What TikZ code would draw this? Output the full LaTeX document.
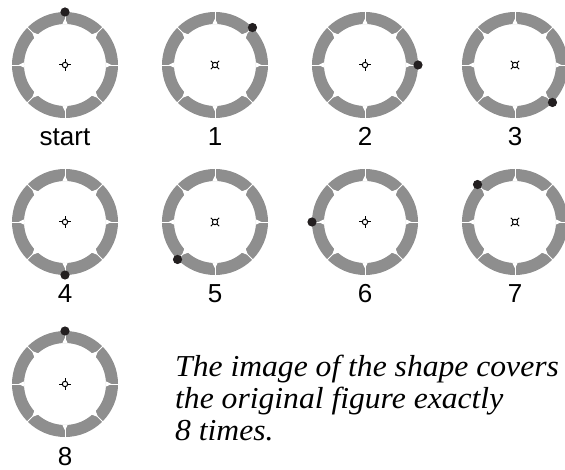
\documentclass[tikz,border=0pt]{standalone}
\usepackage{fontspec}
\setmainfont{Liberation Serif}
\newfontfamily\labelfont{Liberation Sans}
\newfontfamily\capfont{Liberation Serif Italic}[FakeStretch=1.04]
\definecolor{ringgray}{RGB}{142,142,142}
\definecolor{dotblack}{RGB}{35,31,32}
\tikzset{
  ring/.style={draw=ringgray, line width=12pt},
  notchline/.style={draw=white, line width=0.9pt},
  notchtri/.style={fill=white},
  marker/.style={draw=black, line width=1pt},
  dotmark/.style={fill=dotblack},
  steplabel/.style={font=\labelfont\fontsize{26}{26}\selectfont, anchor=base, inner sep=0},
  captiontext/.style={font=\capfont\fontsize{30.4}{31}\selectfont, anchor=base west, inner sep=0}
}
\begin{document}
\begin{tikzpicture}[x=1pt,y=-1pt]
\useasboundingbox (0,0) rectangle (565,470);
\foreach \k/\cx/\cy/\lab in {0/65/65/start,1/215/65/1,2/365/65/2,3/515/65/3,4/65/222/4,5/215/222/5,6/365/222/6,7/515/222/7,8/65/384/8}{
  \coordinate (r\k) at (\cx,\cy);
  \begin{scope}[shift={(r\k)}]
    \draw[ring] (0,0) circle[radius=47];
    \foreach \j in {0,...,7}{
      \fill[notchtri] (\j*45-4:40.6) -- (\j*45+4:40.6) -- (\j*45:46.5) -- cycle;
      \draw[notchline] (\j*45:40.5) -- (\j*45:54);
    }
    \fill[dotmark] ({-(90-45*\k)}:53) circle[radius=4.6];
    \draw[marker] (0,0) circle[radius=2.7];
    \foreach \j in {0,...,3}{
      \draw[marker] (\k*45+\j*90:2.7) -- (\k*45+\j*90:6);
    }
  \end{scope}
  \node[steplabel] (l\k) at ([yshift=-81pt]r\k) {\lab};
}
\node[captiontext] (cap1) at (175,377) {The image of the shape covers};
\node[captiontext] (cap2) at (175,408) {the original figure exactly};
\node[captiontext] (cap3) at (175,440) {8 times.};
\end{tikzpicture}
\end{document}
